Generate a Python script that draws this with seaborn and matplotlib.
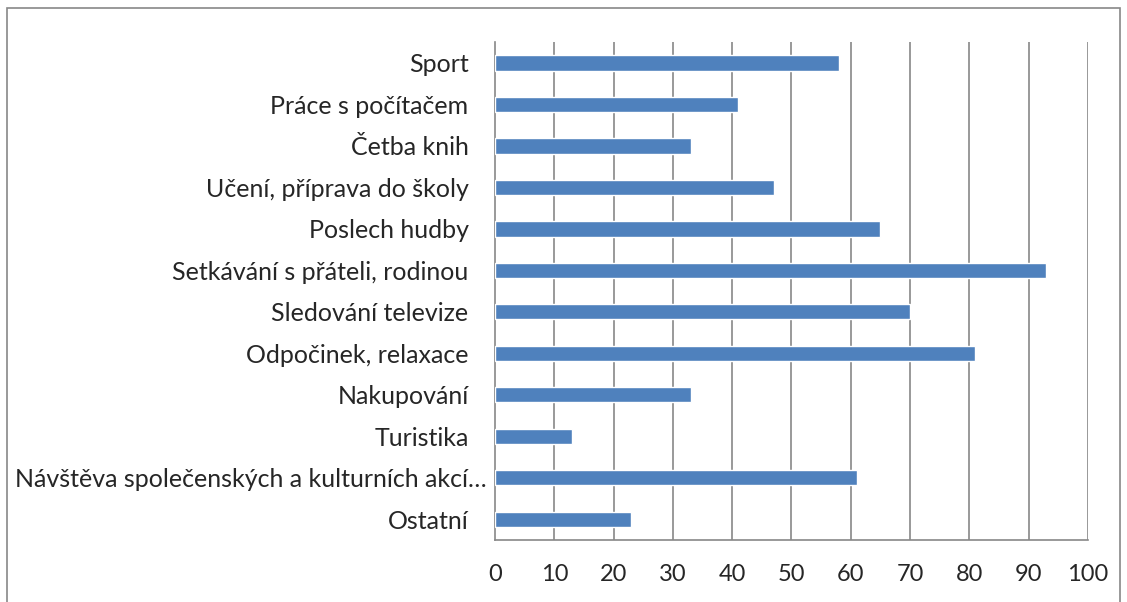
import matplotlib
matplotlib.use("Agg")
import matplotlib.pyplot as plt
import matplotlib.transforms as mtransforms
import seaborn as sns
import pandas as pd
from matplotlib.patches import Rectangle

categories = [
    "Sport",
    "Práce s počítačem",
    "Četba knih",
    "Učení, příprava do školy",
    "Poslech hudby",
    "Setkávání s přáteli, rodinou",
    "Sledování televize",
    "Odpočinek, relaxace",
    "Nakupování",
    "Turistika",
    "Návštěva společenských a kulturních akcí…",
    "Ostatní",
]
values = [58, 41, 33, 47, 65, 93, 70, 81, 33, 13, 61, 23]
x_ticks = [0, 10, 20, 30, 40, 50, 60, 70, 80, 90, 100]

sns.set_style("white")
plt.rcParams['font.family'] = ['Lato', 'DejaVu Sans']

df = pd.DataFrame({"cat": categories, "val": values})

fig = plt.figure(figsize=(11.27, 6.02), dpi=100)
ax = fig.add_axes([0.4392, 0.103, 0.9654 - 0.4392, 0.930 - 0.103])

sns.barplot(data=df, x="val", y="cat", orient="h", color="#4F81BD",
            saturation=1, width=0.37, ax=ax, zorder=3)

grid_c = "#888888"
ax.set_xlim(0, 100)
ax.set_ylim(len(categories) - 0.5, -0.5)
ax.set_xticks(x_ticks)
ax.set_xticklabels([str(t) for t in x_ticks], fontsize=17)
ax.set_yticks(range(len(categories)))
ax.set_yticklabels(categories, fontsize=18)
ax.set_yticks([i - 0.5 for i in range(len(categories) + 1)], minor=True)
ax.tick_params(axis="y", which="major", length=0, pad=19)
ax.tick_params(axis="y", which="minor", length=7, color=grid_c, width=1.2)
ax.tick_params(axis="x", length=7, color=grid_c, width=1.2, pad=10)
ax.set_xlabel("")
ax.set_ylabel("")

# the long truncated label sits closer to the axis, as in the source
long_lbl = ax.get_yticklabels()[categories.index("Návštěva společenských a kulturních akcí…")]
long_lbl.set_transform(long_lbl.get_transform()
                       + mtransforms.ScaledTranslation(18 / 100, 0, fig.dpi_scale_trans))

for x in x_ticks[1:]:
    ax.axvline(x, color=grid_c, lw=1.2, zorder=1)

for s in ["top", "right"]:
    ax.spines[s].set_visible(False)
for s in ["left", "bottom"]:
    ax.spines[s].set_color(grid_c)
    ax.spines[s].set_linewidth(1.2)

fig.patches.append(Rectangle((7 / 1127, -0.01), (1120 - 7) / 1127, 1 - 8 / 602 + 0.01,
                             transform=fig.transFigure, fill=False,
                             edgecolor="#888888", lw=1.2))

fig.savefig("out.png", dpi=100)
